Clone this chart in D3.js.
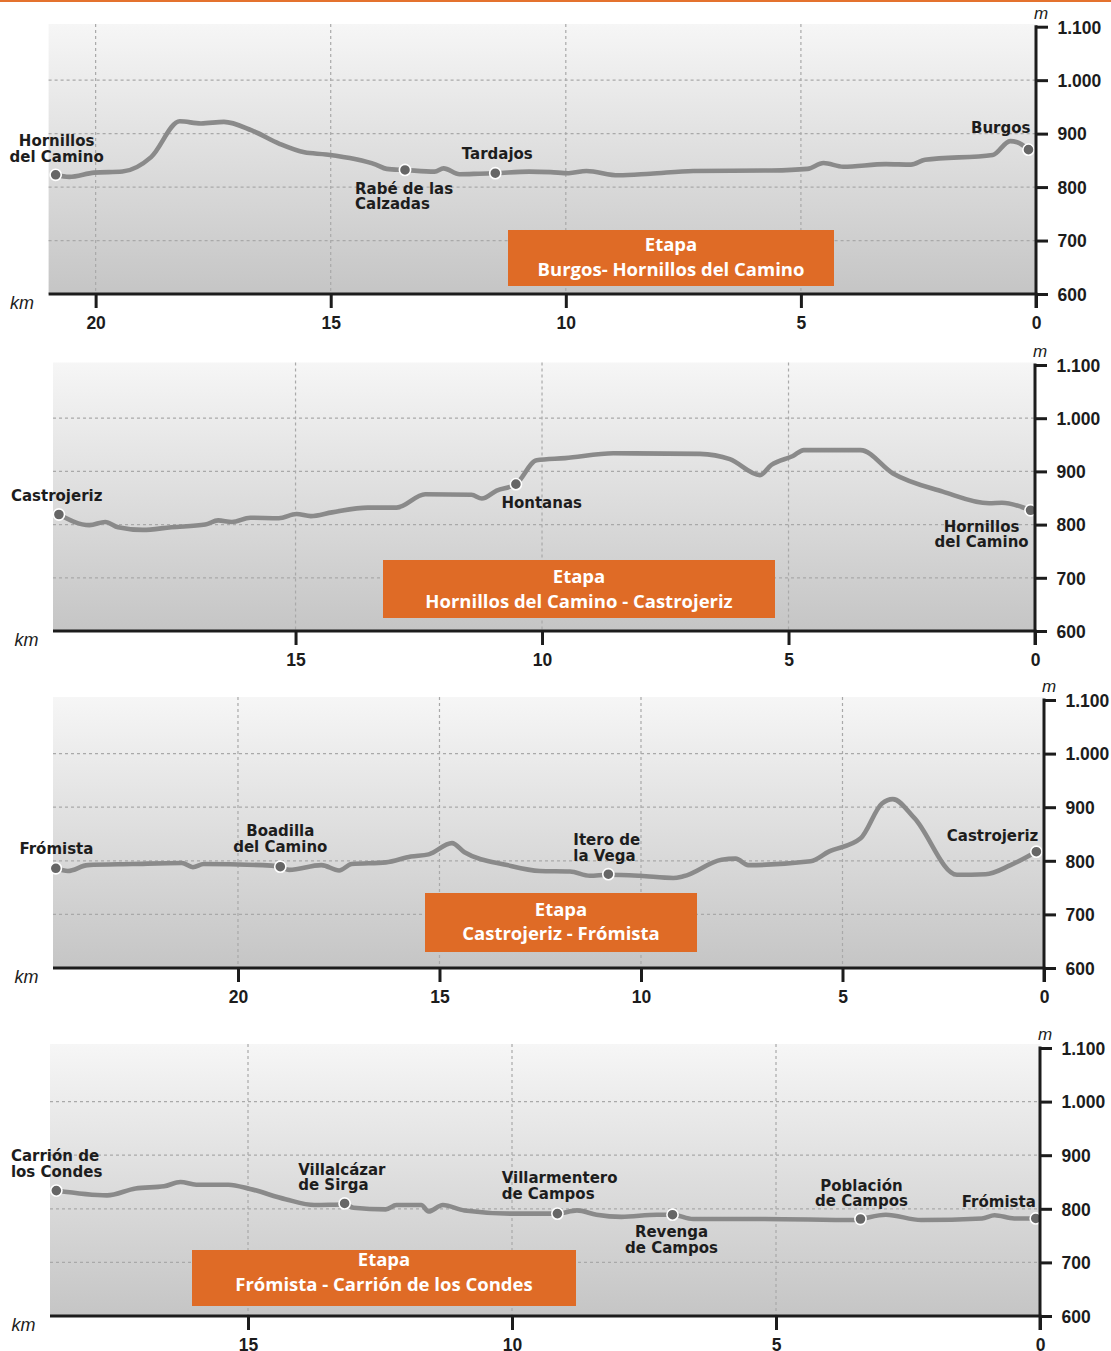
<!DOCTYPE html>
<html><head><meta charset="utf-8">
<script src="https://cdn.jsdelivr.net/npm/d3@7/dist/d3.min.js"></script>
<style>
html,body{margin:0;padding:0;background:#fff;}
svg{display:block;}
</style>
</head><body>
<svg id="chart" width="1111" height="1351"></svg>
<script>
// ---------------- DATA ----------------
const stageTitles = [
  "Burgos- Hornillos del Camino",
  "Hornillos del Camino - Castrojeriz",
  "Castrojeriz - Frómista",
  "Frómista - Carrión de los Condes"
];
const stageLength = [21.0, 19.92, 24.59, 18.75];        // km shown on each x axis
const elevTicks = [600, 700, 800, 900, 1000, 1100];
const elevGrid = [700, 800, 900, 1000];
const stage1KmTicks = [20, 15, 10, 5, 0];
const stage2KmTicks = [15, 10, 5, 0];
const stage3KmTicks = [20, 15, 10, 5, 0];
const stage4KmTicks = [15, 10, 5, 0];

// Profiles: km remaining and elevation (m)
const stage1Km   = [20.85,20.56,20.03,19.43,18.82,18.21,17.76,17.27,16.68,16.09,15.56,15.10,14.04,13.81,13.42,12.79,12.60,12.26,11.84,11.50,10.78,10.32,9.94,9.56,8.88,8.20,7.29,5.62,4.86,4.52,4.10,3.19,2.66,2.36,0.92,0.55,0.40,0.16];
const stage1Elev = [823,819,827,829,856,923,919,922,906,881,865,861,842,834,832,829,835,824,825,826,829,828,826,830,822,825,830,831,834,845,838,843,842,851,860,886,884,870];

const stage2Km   = [19.80,19.18,18.86,18.60,18.10,17.52,16.83,16.57,16.29,15.92,15.34,14.98,14.69,14.26,13.53,12.95,12.37,11.43,11.22,10.92,10.53,10.11,9.53,8.55,6.80,6.19,5.58,5.35,4.91,4.69,3.54,2.88,1.87,0.93,0.67,0.09];
const stage2Elev = [819,799,805,795,790,795,800,808,805,813,812,820,816,823,832,832,857,856,849,864,876,921,925,934,933,923,893,912,929,940,940,896,862,840,841,827];

const stage3Km   = [24.52,24.22,23.73,22.63,21.39,21.12,20.85,19.17,18.95,18.73,17.93,17.49,17.18,16.33,15.71,15.27,14.69,14.38,13.32,12.51,11.76,11.27,10.81,10.02,9.20,8.95,8.00,7.65,7.34,5.79,5.34,4.55,4.02,3.75,3.22,2.16,1.45,0.83,0.19];
const stage3Elev = [786,781,792,794,796,788,794,791,789,783,792,782,794,797,808,812,833,816,792,781,780,772,774,772,768,771,802,804,792,799,817,842,907,915,880,774,775,792,817];

const stage4Km   = [18.63,17.67,17.13,16.59,16.28,15.98,15.37,14.96,14.29,13.74,13.17,13.00,12.39,12.19,11.72,11.58,11.31,10.90,9.96,9.14,8.77,8.40,7.93,7.25,6.96,6.57,5.22,3.53,3.40,2.92,2.25,1.10,0.86,0.49,0.08];
const stage4Elev = [834,825,838,842,850,845,845,837,818,807,808,802,799,807,807,795,807,797,791,791,797,789,785,789,789,781,781,779,781,789,779,782,788,782,782];

// Towns
const stage1Towns = ["Hornillos\ndel Camino", "Rabé de las\nCalzadas", "Tardajos", "Burgos"];
const stage1TownKm = [20.85, 13.42, 11.50, 0.16];
const stage1TownElev = [823, 832, 826, 870];
const stage2Towns = ["Castrojeriz", "Hontanas", "Hornillos\ndel Camino"];
const stage2TownKm = [19.80, 10.53, 0.09];
const stage2TownElev = [819, 876, 827];
const stage3Towns = ["Frómista", "Boadilla\ndel Camino", "Itero de\nla Vega", "Castrojeriz"];
const stage3TownKm = [24.52, 18.95, 10.81, 0.19];
const stage3TownElev = [786, 789, 775, 817];
const stage4Towns = ["Carrión de\nlos Condes", "Villalcázar\nde Sirga", "Villarmentero\nde Campos", "Revenga\nde Campos", "Población\nde Campos", "Frómista"];
const stage4TownKm = [18.63, 13.17, 9.14, 6.96, 3.40, 0.08];
const stage4TownElev = [834, 810, 791, 789, 781, 782];

// ---------------- LAYOUT (positions / styles) ----------------
const panelLayout = [
  {left:48.6, axisX:1036, top:24,   y1100:26.7, axisY:294,  box:[508,230,834,286], boxDy:[20.7,45.7]},
  {left:53,   axisX:1035, top:362.5,y1100:365,  axisY:631,  box:[383,560,775,618], boxDy:[23.3,47.7]},
  {left:53,   axisX:1044, top:697,  y1100:700,  axisY:968,  box:[425,893,697,952], boxDy:[22.7,46.7]},
  {left:50,   axisX:1040, top:1044, y1100:1048, axisY:1316, box:[192,1250,576,1306], boxDy:[16,41]}
];
const labelLayout = [
  [["middle",1,-28.6],["start",-50,24],["middle",2,-13.7],["end",2,-16.3]],
  [["start",-48,-13],["start",-14.5,24.3],["middle",-49,21.7]],
  [["middle",0.6,-14],["middle",0,-30.3],["start",-35,-29],["end",2,-11]],
  [["start",-45.4,-29.3],["start",-46.4,-28.7],["start",-55.7,-30.4],["middle",-1,22.7],["middle",1,-28.3],["end",0,-11]]
];

const zip = (a, b) => a.map((v, i) => ({km: v, elev: b[i]}));
const stages = [
  {profile: zip(stage1Km, stage1Elev), towns: stage1Towns.map((n,i)=>({name:n, km:stage1TownKm[i], elev:stage1TownElev[i]})), kmTicks: stage1KmTicks},
  {profile: zip(stage2Km, stage2Elev), towns: stage2Towns.map((n,i)=>({name:n, km:stage2TownKm[i], elev:stage2TownElev[i]})), kmTicks: stage2KmTicks},
  {profile: zip(stage3Km, stage3Elev), towns: stage3Towns.map((n,i)=>({name:n, km:stage3TownKm[i], elev:stage3TownElev[i]})), kmTicks: stage3KmTicks},
  {profile: zip(stage4Km, stage4Elev), towns: stage4Towns.map((n,i)=>({name:n, km:stage4TownKm[i], elev:stage4TownElev[i]})), kmTicks: stage4KmTicks}
];

// ---------------- DRAW ----------------
const svg = d3.select("#chart");
const AXIS = "#1c1c1c";
const LABEL_FONT = "'DejaVu Sans', Verdana, sans-serif";
const TICK_FONT = "'Liberation Sans', Arial, sans-serif";

const defs = svg.append("defs");
const grad = defs.append("linearGradient").attr("id","bg").attr("x1",0).attr("y1",0).attr("x2",0).attr("y2",1);
grad.append("stop").attr("offset","0%").attr("stop-color","#f6f6f6");
grad.append("stop").attr("offset","100%").attr("stop-color","#c5c5c5");

svg.append("rect").attr("x",0).attr("y",0).attr("width",1111).attr("height",2).attr("fill","#e4722e");

const fmt = d => d3.format(",")(d).replace(",", ".");

stages.forEach((st, i) => {
  const L = panelLayout[i];
  const g = svg.append("g");
  const x = d3.scaleLinear().domain([stageLength[i], 0]).range([L.left, L.axisX]);
  const y = d3.scaleLinear().domain([600, 1100]).range([L.axisY, L.y1100]);

  g.append("rect").attr("x", L.left).attr("y", L.top)
    .attr("width", L.axisX - L.left).attr("height", L.axisY - L.top)
    .attr("fill", "url(#bg)");

  // grid
  g.selectAll(".hg").data(elevGrid).enter().append("line")
    .attr("x1", L.left).attr("x2", L.axisX)
    .attr("y1", d => y(d)).attr("y2", d => y(d))
    .attr("stroke", "#a9a9a9").attr("stroke-width", 1.2).attr("stroke-dasharray", "3,3");
  g.selectAll(".vg").data(st.kmTicks.filter(d => d !== 0)).enter().append("line")
    .attr("x1", d => x(d)).attr("x2", d => x(d))
    .attr("y1", L.top).attr("y2", L.axisY)
    .attr("stroke", "#a9a9a9").attr("stroke-width", 1.2).attr("stroke-dasharray", "3,3");

  // etapa box
  const b = L.box;
  g.append("rect").attr("x", b[0]).attr("y", b[1]).attr("width", b[2]-b[0]).attr("height", b[3]-b[1]).attr("fill", "#df6b26");
  const bt = g.append("text").attr("text-anchor","middle")
    .attr("font-family","'Open Sans', sans-serif").attr("font-weight",700).attr("font-size",18.5).attr("fill","#fff");
  bt.append("tspan").attr("x",(b[0]+b[2])/2).attr("y",b[1]+L.boxDy[0]).text("Etapa");
  bt.append("tspan").attr("x",(b[0]+b[2])/2).attr("y",b[1]+L.boxDy[1]).text(stageTitles[i]);

  // profile line
  const line = d3.line().x(d => x(d.km)).y(d => y(d.elev)).curve(d3.curveMonotoneX);
  g.append("path").datum(st.profile).attr("d", line)
    .attr("fill","none").attr("stroke","#8a8a8a").attr("stroke-width",4.6)
    .attr("stroke-linejoin","round").attr("stroke-linecap","round");

  // town dots
  g.selectAll(".dot").data(st.towns).enter().append("circle")
    .attr("cx", d => x(d.km)).attr("cy", d => y(d.elev)).attr("r", 5.6)
    .attr("fill","#666").attr("stroke","#fff").attr("stroke-width",1.6);

  // town labels
  st.towns.forEach((t, j) => {
    const [anchor, dx, dy] = labelLayout[i][j];
    const tx = x(t.km) + dx, ty = y(t.elev) + dy;
    const txt = g.append("text").attr("text-anchor", anchor)
      .attr("font-family", LABEL_FONT).attr("font-weight","bold").attr("font-size",15).attr("fill","#1d1d1d");
    t.name.split("\n").forEach((ln, k) => {
      txt.append("tspan").attr("x", tx).attr("y", ty + k*15.4).text(ln);
    });
  });

  // axes
  const ya = g.append("g").attr("transform", `translate(${L.axisX},0)`)
    .call(d3.axisRight(y).tickValues(elevTicks).tickSize(12).tickPadding(9.5).tickFormat(fmt));
  ya.select(".domain").remove();
  ya.selectAll(".tick line").attr("stroke", AXIS).attr("stroke-width", 3);
  ya.selectAll(".tick text").attr("fill", AXIS).attr("font-family", TICK_FONT)
    .attr("font-weight","bold").attr("font-size",17.5).attr("dy","0.36em");

  const xa = g.append("g").attr("transform", `translate(0,${L.axisY})`)
    .call(d3.axisBottom(x).tickValues(st.kmTicks).tickSize(14).tickFormat(d3.format("d")));
  xa.select(".domain").remove();
  xa.selectAll(".tick line").attr("stroke", AXIS).attr("stroke-width", 3);
  xa.selectAll(".tick text").attr("fill", AXIS).attr("font-family", TICK_FONT)
    .attr("font-weight","bold").attr("font-size",17.5).attr("y",34.5).attr("dy",0);

  g.append("line").attr("x1", L.axisX).attr("x2", L.axisX)
    .attr("y1", L.y1100 - 1.5).attr("y2", L.axisY + 14)
    .attr("stroke", AXIS).attr("stroke-width", 3);
  g.append("line").attr("x1", L.left).attr("x2", L.axisX + 1.5)
    .attr("y1", L.axisY).attr("y2", L.axisY)
    .attr("stroke", AXIS).attr("stroke-width", 3);

  g.append("text").attr("x", L.axisX + 5).attr("y", L.y1100 - 8).attr("text-anchor","middle")
    .attr("font-family", TICK_FONT).attr("font-style","italic").attr("font-size",17).attr("fill",AXIS).text("m");
  g.append("text").attr("x", L.left - 38.5).attr("y", L.axisY + 15)
    .attr("font-family", TICK_FONT).attr("font-style","italic").attr("font-size",18).attr("fill",AXIS).text("km");
});
</script>
</body></html>
